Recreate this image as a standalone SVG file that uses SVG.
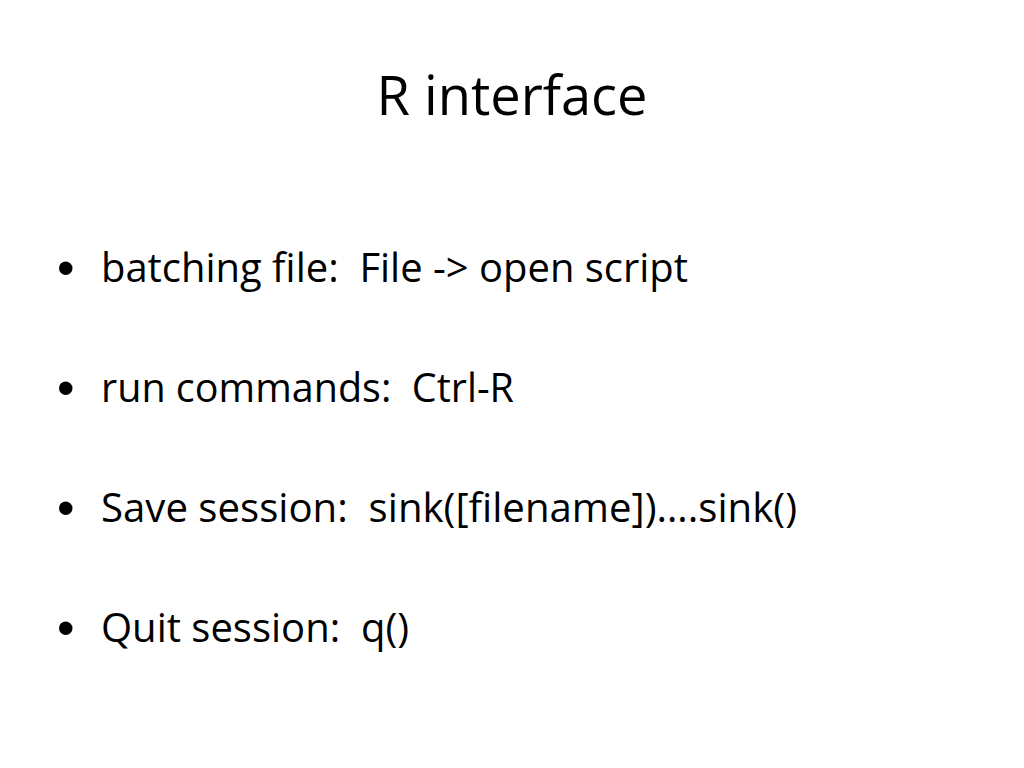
<svg xmlns="http://www.w3.org/2000/svg" width="1024" height="768" viewBox="0 0 1024 768" xml:space="preserve">
<style>
.t{font-family:"Open Sans","Liberation Sans",sans-serif;fill:#000;white-space:pre}
.b{font-family:"Liberation Sans",Arial,sans-serif;font-size:50px;fill:#000}
.i{font-size:40px}
</style>
<rect width="1024" height="768" fill="#fff"/>
<g id="title"><text class="t" x="512" y="115" font-size="55" text-anchor="middle" textLength="271" lengthAdjust="spacingAndGlyphs">R interface</text></g>
<g id="bullet1"><text class="b" x="57" y="285">•</text><text class="t i" x="101" y="282" textLength="587" lengthAdjust="spacingAndGlyphs">batching file:  File -&gt; open script</text></g>
<g id="bullet2"><text class="b" x="57" y="405">•</text><text class="t i" x="101" y="402" textLength="413" lengthAdjust="spacingAndGlyphs">run commands:  Ctrl-R</text></g>
<g id="bullet3"><text class="b" x="57" y="525">•</text><text class="t i" x="101" y="522" textLength="696" lengthAdjust="spacingAndGlyphs">Save session:  sink([filename])….sink()</text></g>
<g id="bullet4"><text class="b" x="57" y="645">•</text><text class="t i" x="101" y="642" textLength="308" lengthAdjust="spacingAndGlyphs">Quit session:  q()</text></g>
</svg>
